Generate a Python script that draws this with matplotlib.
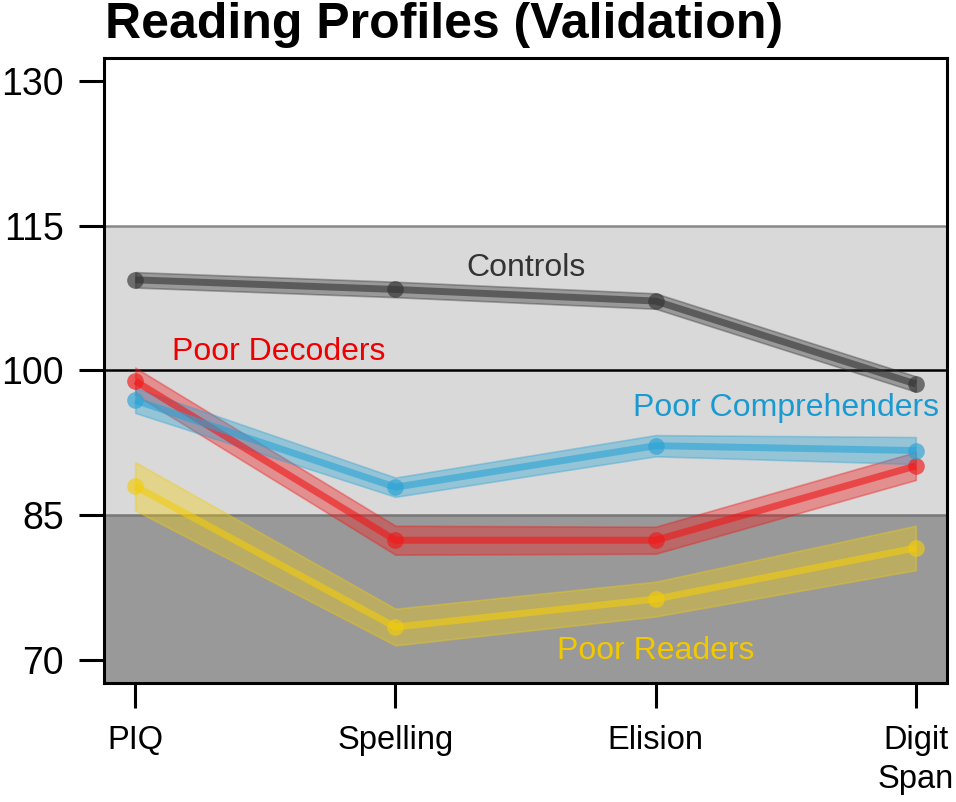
import numpy as np
import matplotlib.pyplot as plt

plt.rcParams['font.family'] = ['Liberation Sans', 'DejaVu Sans']

# data
tests = ['PIQ', 'Spelling', 'Elision', 'Digit\nSpan']
groups = ['Controls', 'Poor Decoders', 'Poor Comprehenders', 'Poor Readers']

controls = [109.4, 108.4, 107.2, 98.6]
decoders = [98.9, 82.4, 82.4, 90.1]
comprehenders = [96.9, 87.9, 92.2, 91.7]
readers = [88.0, 73.4, 76.3, 81.6]

controls_se = [0.8, 0.8, 0.8, 0.8]
decoders_se = [1.4, 1.5, 1.4, 1.45]
comprehenders_se = [1.3, 1.0, 1.1, 1.4]
readers_se = [2.5, 1.9, 1.8, 2.3]

colors = ['#333333', '#f01818', '#2aa3d5', '#f2cc0c']
text_colors = ['#333333', '#ee0000', '#1a9ad0', '#f2c800']
label_pos = [(2.5, 110.6), (1.55, 101.9), (3.5, 96.1), (3.0, 70.9)]

means = [controls, decoders, comprehenders, readers]
ses = [controls_se, decoders_se, comprehenders_se, readers_se]

fig = plt.figure(figsize=(9.56, 8.02), dpi=100)
ax = fig.add_axes([0.1088, 0.1484, 0.8818, 0.7793])

x = np.arange(1, len(tests) + 1)

# shaded bands
ax.axhspan(85, 115, color='#d9d9d9', zorder=0, lw=0)
ax.axhspan(60, 85, color='#999999', zorder=0, lw=0)
ax.axhline(115, color='#888888', lw=1.8, zorder=1)
ax.axhline(85, color='#777777', lw=1.8, zorder=1)
ax.axhline(100, color='black', lw=1.8, zorder=1)

for m, s, c in zip(means, ses, colors):
    m = np.array(m)
    s = np.array(s)
    ax.fill_between(x, m - s, m + s, facecolor=c, alpha=0.38, edgecolor=c, lw=1.2, zorder=2)
    ax.plot(x, m, color=c, lw=5, alpha=0.6, solid_capstyle='butt', zorder=3)
    ax.plot(x, m, 'o', color=c, ms=12, alpha=0.65, mec='none', zorder=4)

for g, (lx, ly), tc in zip(groups, label_pos, text_colors):
    ax.text(lx, ly, g, color=tc, fontsize=23, ha='center', va='center', zorder=5)

ax.set_xlim(0.88, 4.12)
ax.set_ylim(67.6, 132.4)
ax.set_xticks(x)
ax.set_xticklabels(tests, fontsize=23.5, linespacing=1.35)
ax.set_yticks([70, 85, 100, 115, 130])
ax.tick_params(axis='y', labelsize=27, length=18, width=2.2, pad=11)
ax.tick_params(axis='x', length=18, width=2.2, pad=12)
for sp in ax.spines.values():
    sp.set_linewidth(2.2)

fig.text(105 / 956, 1 - 38 / 802, 'Reading Profiles (Validation)', fontsize=36,
         fontweight='bold', ha='left', va='baseline')

fig.savefig('out.png', dpi=100)
